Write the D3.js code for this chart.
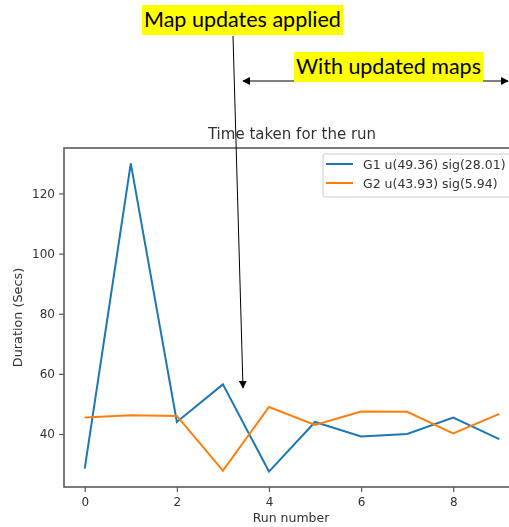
<!DOCTYPE html>
<html>
<head>
<meta charset="utf-8">
<script src="https://cdn.jsdelivr.net/npm/d3@7"></script>
<style>
  html, body { margin: 0; padding: 0; background: #fff; }
  svg { display: block; overflow: hidden; }
</style>
</head>
<body>
<script>
// Run numbers and durations (seconds) for the two groups
const runs = [0, 1, 2, 3, 4, 5, 6, 7, 8, 9];
const g1Durations = [28.5, 130, 44, 56.5, 27.5, 44, 39.2, 40, 45.5, 38.3];
const g2Durations = [45.5, 46.2, 46, 27.8, 49, 43, 47.5, 47.4, 40.2, 46.7];
const seriesNames = ["G1 u(49.36) sig(28.01)", "G2 u(43.93) sig(5.94)"];
const seriesColors = ["#1f77b4", "#ff7f0e"];
const xTicks = [0, 2, 4, 6, 8];
const yTicks = [40, 60, 80, 100, 120];

const W = 509, H = 527;
const svg = d3.select("body").append("svg").attr("width", W).attr("height", H);

const defs = svg.append("defs");
defs.append("filter").attr("id", "soft")
  .attr("x", "-5%").attr("y", "-5%").attr("width", "110%").attr("height", "110%")
  .append("feGaussianBlur").attr("stdDeviation", 0.6);
defs.append("marker").attr("id", "head")
  .attr("viewBox", "0 0 10 10").attr("refX", 9).attr("refY", 5)
  .attr("markerWidth", 8).attr("markerHeight", 8)
  .attr("markerUnits", "userSpaceOnUse")
  .attr("orient", "auto-start-reverse")
  .append("path").attr("d", "M0,0 L10,5 L0,10 Z").attr("fill", "#000");

// Plot area (right edge runs past the window)
const plotL = 64, plotR = 520, plotT = 148, plotB = 487;

const allVals = g1Durations.concat(g2Durations);
const [vmin, vmax] = d3.extent(allVals);
const pad = (vmax - vmin) * 0.05;
const x = d3.scaleLinear().domain([d3.min(runs) - 0.45, d3.max(runs) + 0.45]).range([plotL, plotR]);
const y = d3.scaleLinear().domain([vmin - pad, vmax + pad]).range([plotB, plotT]);

const chart = svg.append("g").attr("filter", "url(#soft)");
const axisColor = "#5a5a5a";
const textColor = "#333";
const font = "DejaVu Sans, sans-serif";

// Series lines
const line = d3.line().x((d, i) => x(runs[i])).y(d => y(d));
[g1Durations, g2Durations].forEach((vals, k) => {
  chart.append("path").datum(vals)
    .attr("d", line)
    .attr("fill", "none")
    .attr("stroke", seriesColors[k])
    .attr("stroke-width", 2)
    .attr("stroke-linejoin", "miter");
});

// Frame
chart.append("rect")
  .attr("x", plotL).attr("y", plotT)
  .attr("width", plotR - plotL).attr("height", plotB - plotT)
  .attr("fill", "none").attr("stroke", axisColor).attr("stroke-width", 1.6);

// Axes
const xAxis = chart.append("g").attr("transform", `translate(0,${plotB})`)
  .call(d3.axisBottom(x).tickValues(xTicks).tickSize(5).tickPadding(5).tickFormat(d3.format("d")));
const yAxis = chart.append("g").attr("transform", `translate(${plotL},0)`)
  .call(d3.axisLeft(y).tickValues(yTicks).tickSize(5).tickPadding(4).tickFormat(d3.format("d")));
[xAxis, yAxis].forEach(a => {
  a.select(".domain").remove();
  a.selectAll(".tick line").attr("stroke", axisColor).attr("stroke-width", 1.2);
  a.selectAll(".tick text").attr("fill", textColor).style("font-family", font).style("font-size", "12px");
});

// Titles
chart.append("text").attr("x", (plotL + plotR) / 2).attr("y", 139)
  .attr("text-anchor", "middle").attr("fill", textColor)
  .style("font-family", font).style("font-size", "15px")
  .text("Time taken for the run");
chart.append("text").attr("x", (plotL + plotR) / 2 - 1).attr("y", 522)
  .attr("text-anchor", "middle").attr("fill", textColor)
  .style("font-family", font).style("font-size", "12.5px")
  .text("Run number");
chart.append("text")
  .attr("transform", `translate(22,${(plotT + plotB) / 2}) rotate(-90)`)
  .attr("text-anchor", "middle").attr("fill", textColor)
  .style("font-family", font).style("font-size", "12.8px")
  .text("Duration (Secs)");

// Legend
const legend = chart.append("g");
legend.append("rect").attr("x", 323).attr("y", 154).attr("width", 200).attr("height", 43)
  .attr("rx", 2).attr("fill", "#fff").attr("stroke", "#ccc").attr("stroke-width", 1);
seriesNames.forEach((name, k) => {
  const ly = 164 + k * 19;
  legend.append("line").attr("x1", 326).attr("x2", 353).attr("y1", ly).attr("y2", ly)
    .attr("stroke", seriesColors[k]).attr("stroke-width", 2);
  legend.append("text").attr("x", 363).attr("y", ly + 4.5)
    .attr("fill", textColor).style("font-family", font).style("font-size", "12.5px")
    .text(name);
});

// Callouts drawn over the chart
const notes = svg.append("g");
const noteFont = "Lato, 'Open Sans', sans-serif";

function label(txt, x0, y0, w, h) {
  notes.append("rect").attr("x", x0).attr("y", y0).attr("width", w).attr("height", h).attr("fill", "#ffff00");
  const t = notes.append("text").attr("x", x0 + 2).attr("y", y0 + h - 8)
    .style("font-family", noteFont).style("font-size", "20px").attr("fill", "#000").text(txt);
  const len = t.node().getComputedTextLength();
  const target = w - 4;
  t.style("font-size", (20 * target / len).toFixed(2) + "px");
}

// Arrow from the first label down into the plot
notes.append("line").attr("x1", 233).attr("y1", 36).attr("x2", 243).attr("y2", 388)
  .attr("stroke", "#000").attr("stroke-width", 1).attr("marker-end", "url(#head)");

// Double-headed span arrow
notes.append("line").attr("x1", 243).attr("y1", 81).attr("x2", 508).attr("y2", 81)
  .attr("stroke", "#000").attr("stroke-width", 1)
  .attr("marker-start", "url(#head)").attr("marker-end", "url(#head)");

label("Map updates applied", 142, 5, 201, 30);
label("With updated maps", 294, 52, 189, 30);
</script>
</body>
</html>
